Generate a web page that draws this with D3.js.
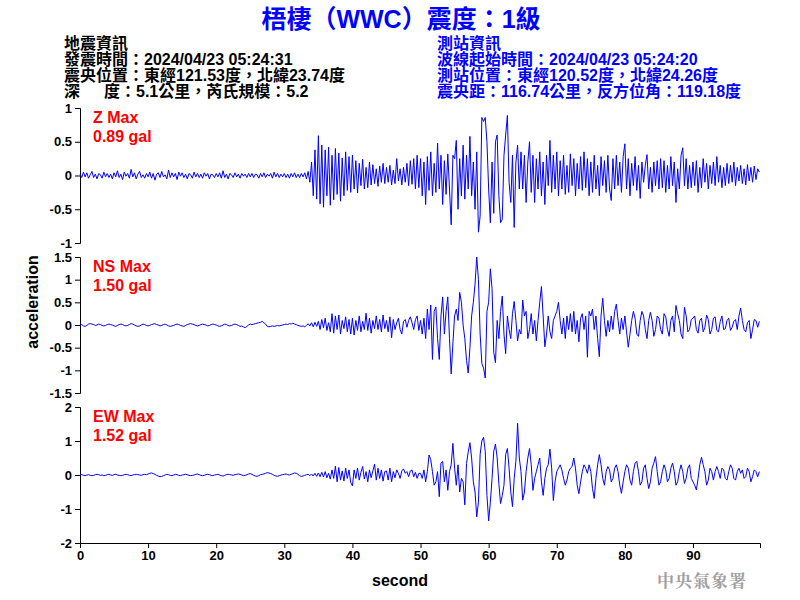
<!DOCTYPE html>
<html>
<head>
<meta charset="utf-8">
<script src="https://cdn.jsdelivr.net/npm/d3@7"></script>
<style>
  body { margin: 0; background: #fff; }
  svg { display: block; }
</style>
</head>
<body>
<div id="container"></div>
<script>
// sample spacing of the traces, seconds
var sampleStep = 0.25;

// Z component, gal (one line = 5 s)
var zAcc = [
  .02,-.03,.05,-.02,.04,-.04,.01,.06,-.03,.02,-.05,.03,.01,-.04,.05,-.02,.03,-.03,.02,-.05,
  .04,-.02,.07,-.03,.02,-.06,.05,-.01,.03,-.04,.09,-.02,.04,-.05,.02,.06,-.03,.01,-.04,.03,
  -.02,.05,-.04,.03,-.07,.02,.04,-.03,.06,-.02,.01,-.05,.08,-.03,.04,-.02,.03,-.06,.05,-.01,
  .04,-.03,.02,-.05,.03,.01,-.04,.05,-.02,.03,-.03,.02,-.04,.04,-.01,.03,-.05,.02,.01,-.03,
  .03,-.02,.04,-.04,.07,-.03,.02,-.05,.03,.01,-.03,.04,-.02,.02,-.04,.03,-.01,.02,-.03,.03,
  -.02,.03,-.03,.02,.01,-.04,.03,-.02,.04,-.03,.02,-.01,.03,-.04,.05,-.02,.03,-.03,.02,-.02,
  .03,-.03,.02,-.04,.03,-.02,.04,-.03,.02,-.03,.03,-.02,.04,-.05,.06,-.1,.2,-.3,.38,-.35,
  .59,-.42,.45,-.47,.38,-.3,.42,-.44,.3,-.36,.4,-.28,.33,-.38,.26,-.3,.35,-.22,.28,-.25,
  .3,-.2,.22,-.26,.18,-.15,.24,-.2,.12,-.18,.2,-.14,.16,-.12,.1,-.16,.14,-.1,.18,-.12,
  .12,-.1,.15,-.14,.08,-.12,.25,-.08,.1,-.14,.12,-.1,.18,-.15,.22,-.13,.25,-.2,.3,-.18,
  .25,-.3,.2,-.43,.28,-.22,.35,-.3,.18,-.25,.48,-.2,.3,-.43,.22,-.28,.32,-.2,-.73,.3,
  .25,.52,-.5,.25,-.3,.45,-.35,.3,-.2,.58,-.3,.2,-.5,.35,-.84,-.6,.86,.8,.86,.5,
  -.2,-.7,.2,-.56,.5,.6,-.3,-.7,-.65,.3,.6,.89,-.1,-.4,.3,-.77,.2,.45,-.2,.35,
  -.2,.3,-.4,.2,.5,-.25,.3,-.4,.25,-.2,.35,-.3,.2,-.43,.3,-.15,.52,-.25,.3,-.2,
  .35,-.3,.22,-.2,.3,-.28,.15,-.25,.32,-.15,.25,-.3,.18,-.2,.28,-.22,.35,-.18,.25,-.3,
  .2,-.25,.3,-.2,.15,-.3,.28,-.15,.22,-.25,.3,-.2,-.37,.25,-.2,.3,-.15,.2,-.25,.28,
  .47,-.2,.25,-.3,.18,-.15,.28,-.22,.15,-.34,.2,-.1,.15,.31,-.2,.12,-.25,.2,-.15,.22,
  -.2,.25,-.18,.22,-.25,.15,-.2,.28,-.15,.2,-.4,.1,-.2,.3,.41,-.15,.25,-.2,.15,-.18,
  .2,-.15,.22,-.25,.12,-.18,.25,-.1,.18,-.2,.15,-.12,.2,-.15,.28,-.1,.15,-.18,.12,-.15,
  .18,-.12,.15,-.1,.2,-.15,.12,-.08,.15,-.12,.1,-.14,.16,-.08,.12,-.1,.14,-.06,.1,.05
];

// NS component, gal
var nsAcc = [
  .02,.01,-.02,-.03,-.01,.02,.03,.02,.01,-.01,0,.02,.01,-.01,-.02,-.01,.01,.02,.01,0,
  -.02,-.03,-.01,.01,.02,.01,-.01,-.02,-.01,.01,.03,.02,0,-.02,-.03,-.02,0,.02,.01,-.01,
  -.02,-.01,.01,.02,.03,.01,0,-.02,-.01,.01,.02,0,-.02,-.03,-.02,-.01,.01,.02,.01,-.01,
  -.02,-.03,-.01,.01,.02,.03,.02,.01,-.01,-.02,-.01,.01,.02,.01,0,-.02,-.01,.01,.02,.01,
  0,-.02,-.03,-.02,0,.02,.01,-.01,-.02,-.01,.01,.02,.01,-.01,-.03,-.02,-.04,-.06,-.03,0,
  .02,.01,.02,.03,.04,.05,.06,.08,.05,.02,-.03,-.04,-.03,-.02,-.03,-.02,-.01,-.02,-.01,0,
  .01,.02,.01,.03,.02,.04,.02,.01,-.01,-.02,-.03,-.02,-.04,-.01,.03,-.02,.05,-.04,.06,-.03,
  .08,-.1,.12,-.06,.15,-.12,.05,-.15,.25,-.18,.2,-.1,.22,-.2,.1,-.08,.18,-.15,.12,-.2,
  .15,-.22,.1,-.12,.2,-.15,.08,-.1,.26,-.12,.15,-.18,.1,-.08,.2,-.1,.12,-.15,.22,-.08,
  .1,-.15,.18,-.28,.12,-.1,.05,.15,-.1,-.2,.08,.12,-.05,.1,.18,.05,-.1,.12,.2,-.12,
  .1,-.2,.15,-.3,.35,-.1,.44,-.76,.3,.4,-.3,-.76,.2,.62,-.2,.3,.62,-.3,-1.08,-.4,
  .2,.35,.1,.72,.5,0,-.3,-.78,-1.06,-.5,.2,.5,.9,1.5,1.0,-.2,-.85,-.95,-1.17,.3,
  .5,1.24,.8,-.6,-.83,.1,-.3,.3,.64,-.2,-.63,.2,-.1,-.3,.25,.52,.1,-.35,-.1,-.2,
  .55,.2,.3,-.3,-.1,.25,-.2,.1,-.35,.1,.5,.85,.2,-.48,-.2,.2,-.15,-.3,.1,.2,
  .3,.5,.1,-.2,.15,-.3,.2,-.1,.25,-.15,.3,-.2,.1,-.37,.15,.25,-.1,.2,-.71,.3,
  .2,.35,-.1,.2,-.3,-.7,.2,.59,.1,-.25,.1,-.15,.2,-.1,.3,.46,.1,-.2,.15,-.1,
  .2,-.15,-.49,-.2,.1,.3,.15,-.2,-.25,.1,.3,.2,-.1,-.3,.1,.28,.1,-.25,-.1,.2,
  .15,-.1,-.2,.25,.18,-.1,-.25,.1,.2,-.15,.43,.25,.1,-.2,-.3,.39,.2,-.15,-.1,.12,
  .15,.2,-.1,-.18,.1,.15,-.15,-.05,.22,.12,-.2,-.1,.15,.18,-.12,-.15,.08,.2,-.1,-.08,
  .1,.15,-.12,-.05,.08,.12,-.1,.2,.37,.1,-.1,-.15,.05,.1,-.3,-.1,.12,.1,-.05,.08
];

// EW component, gal
var ewAcc = [
  .02,.01,-.01,-.02,0,.01,-.01,-.02,-.01,.01,.02,.01,-.01,0,-.02,-.01,.01,.02,0,-.01,
  .01,.02,0,-.01,-.02,-.01,.01,.02,.01,-.01,-.02,0,.01,.02,.01,0,-.01,.01,.02,.01,
  .03,.05,.06,.04,.02,-.01,-.03,-.05,-.04,-.02,0,.02,.01,-.01,-.02,0,.02,.01,-.01,-.02,
  0,.01,.02,.01,-.01,-.02,-.01,0,.02,.03,.01,-.01,-.02,-.01,.01,.02,.01,-.01,-.02,0,
  .01,.02,0,-.02,-.03,-.01,.01,.02,.01,0,-.01,.01,.02,.03,.02,0,-.02,-.01,.01,.03,
  .04,.02,-.01,-.03,-.04,-.02,.01,.02,.03,.05,.07,.06,.04,.02,-.01,-.03,-.04,-.02,0,.01,
  .02,.03,.01,0,.02,.04,.06,.05,.02,-.02,-.04,-.03,-.01,.01,.02,-.02,.03,-.03,.05,-.04,
  .06,-.05,.08,-.06,.1,-.08,.05,-.12,.15,-.1,.26,-.2,.22,-.15,.12,-.18,.2,-.1,.15,-.22,
  -.32,.15,-.1,.2,-.15,.08,.25,-.12,.1,-.2,.15,-.08,.12,.32,-.15,.2,-.1,.15,-.18,.1,
  .12,-.15,.2,-.2,.1,-.08,.15,.05,-.1,.12,.18,.05,.1,-.05,.12,.15,-.05,.08,-.1,.05,
  .05,-.1,.15,-.2,.1,.59,.45,.1,-.3,-.2,.1,-.64,.35,.4,-.2,.15,-.45,.1,.3,.93,
  .2,-.3,.3,-.5,-.1,-.2,-.88,.34,.68,.95,.5,-.2,-.5,-1.23,-.8,.6,1.0,1.11,.7,-.6,
  -1.35,-.8,-.1,.7,.91,.5,-.25,-.84,-.6,-.3,.6,.78,.2,-.5,-.93,-.1,.4,1.52,.5,.1,
  -.74,-.5,.1,.5,.78,.3,-.45,-.1,.1,.3,.5,-.2,-.6,-.1,.2,.3,.76,.2,-.75,-.2,
  .1,.2,.3,.15,-.1,-.3,-.15,.1,.2,.25,.5,.2,-.3,-.55,-.2,.1,.3,.2,.05,.3,
  .1,-.4,-.69,-.1,.3,.6,.3,-.1,-.3,.1,.25,.15,-.2,-.1,.2,.3,.1,-.3,-.54,-.2,
  .1,.3,.2,-.15,-.3,.1,.35,.4,.1,-.3,-.2,.2,.3,-.1,-.4,-.2,.2,.35,.54,.1,
  -.3,-.2,.1,.3,.15,-.2,-.1,.2,.35,.1,-.3,-.2,.1,.3,.1,-.25,-.1,.2,.3,-.1,
  -.2,-.3,-.44,-.1,.3,.52,.3,.1,-.3,-.15,.2,.1,-.15,.1,.25,.1,-.1,.2,.15,-.1,
  -.15,.1,.3,.2,-.1,-.15,.1,.2,.05,.15,-.1,-.05,.2,.1,-.2,-.05,.15,.1,-.05,.1
];

var channels = ["Z", "NS", "EW"];
var maxValues = ["0.89", "1.50", "1.52"];
var zTicks = [-1, -0.5, 0, 0.5, 1];
var nsTicks = [-1.5, -1, -0.5, 0, 0.5, 1, 1.5];
var ewTicks = [-2, -1, 0, 1, 2];
var xTicks = [0, 10, 20, 30, 40, 50, 60, 70, 80, 90];

var titleText = "梧棲（WWC）震度：1級";
var quakeInfo = ["地震資訊", "發震時間：2024/04/23 05:24:31",
  "震央位置：東經121.53度，北緯23.74度", "深\u2002\u2002\u2002度：5.1公里，芮氏規模：5.2"];
var stationInfo = ["測站資訊", "波線起始時間：2024/04/23 05:24:20",
  "測站位置：東經120.52度，北緯24.26度", "震央距：116.74公里，反方位角：119.18度"];

var font = "'Liberation Sans', Arial, 'Noto Sans CJK TC', sans-serif";
var blue = "#0000ff";

var svg = d3.select("div#container")
  .append("svg")
  .attr("width", 800)
  .attr("height", 600)
  .style("font-family", font);

var x = d3.scaleLinear().domain([0, 99.84]).range([80, 760]);

var panels = [
  {data: zAcc, ticks: zTicks, domain: [-1, 1], top: 108, bottom: 243},
  {data: nsAcc, ticks: nsTicks, domain: [-1.5, 1.5], top: 257, bottom: 393},
  {data: ewAcc, ticks: ewTicks, domain: [-2, 2], top: 407, bottom: 543}
];

// title + header text
svg.append("text")
  .attr("x", 401).attr("y", 28)
  .attr("text-anchor", "middle")
  .attr("fill", blue)
  .attr("font-size", 25)
  .attr("font-weight", "bold")
  .text(titleText);

svg.append("g").selectAll("text")
  .data(quakeInfo)
  .enter().append("text")
  .attr("x", 64)
  .attr("y", function(d, i) { return 49 + i * 16; })
  .attr("font-size", 16)
  .attr("font-weight", "bold")
  .attr("fill", "#000")
  .text(function(d) { return d; });

svg.append("g").selectAll("text")
  .data(stationInfo)
  .enter().append("text")
  .attr("x", 437)
  .attr("y", function(d, i) { return 49 + i * 16; })
  .attr("font-size", 16)
  .attr("font-weight", "bold")
  .attr("fill", blue)
  .text(function(d) { return d; });

var line = d3.line()
  .x(function(d, i) { return x(i * sampleStep); });

panels.forEach(function(p, k) {
  var y = d3.scaleLinear().domain(p.domain).range([p.bottom, p.top]);

  var ay = svg.append("g")
    .attr("transform", "translate(80,0)")
    .call(d3.axisLeft(y).tickValues(p.ticks).tickSizeOuter(0).tickSize(5)
      .tickFormat(function(d) { return String(d); }));
  ay.selectAll("text").attr("font-size", 13).attr("font-weight", "bold")
    .attr("font-family", font).attr("fill", "#000");
  ay.selectAll("line,path").attr("stroke", "#000");

  svg.append("path")
    .datum(p.data)
    .attr("fill", "none")
    .attr("stroke", blue)
    .attr("stroke-width", 1)
    .attr("stroke-linejoin", "miter")
    .attr("d", line.y(function(d) { return y(d); }));

  svg.append("text")
    .attr("x", 93).attr("y", p.top + 15)
    .attr("fill", "#ff0000")
    .attr("font-size", 16)
    .attr("font-weight", "bold")
    .text(channels[k] + " Max");
  svg.append("text")
    .attr("x", 93).attr("y", p.top + 34)
    .attr("fill", "#ff0000")
    .attr("font-size", 16)
    .attr("font-weight", "bold")
    .text(maxValues[k] + " gal");
});

var ax = svg.append("g")
  .attr("transform", "translate(0,543)")
  .call(d3.axisBottom(x).tickValues(xTicks).tickSizeOuter(0).tickSize(5));
ax.selectAll("text").attr("font-size", 13).attr("font-weight", "bold")
  .attr("font-family", font).attr("fill", "#000");
ax.selectAll("line,path").attr("stroke", "#000");

svg.append("text")
  .attr("x", 400).attr("y", 586)
  .attr("text-anchor", "middle")
  .attr("font-size", 16)
  .attr("font-weight", "bold")
  .text("second");

svg.append("text")
  .attr("transform", "translate(38,302) rotate(-90)")
  .attr("text-anchor", "middle")
  .attr("font-size", 16)
  .attr("font-weight", "bold")
  .text("acceleration");

svg.append("text")
  .attr("x", 657).attr("y", 587)
  .attr("font-size", 17)
  .attr("font-weight", "bold")
  .attr("letter-spacing", 1)
  .attr("fill", "#a0a0a0")
  .style("font-family", "'Noto Serif CJK TC', 'Noto Sans CJK TC', serif")
  .text("中央氣象署");
</script>
</body>
</html>
